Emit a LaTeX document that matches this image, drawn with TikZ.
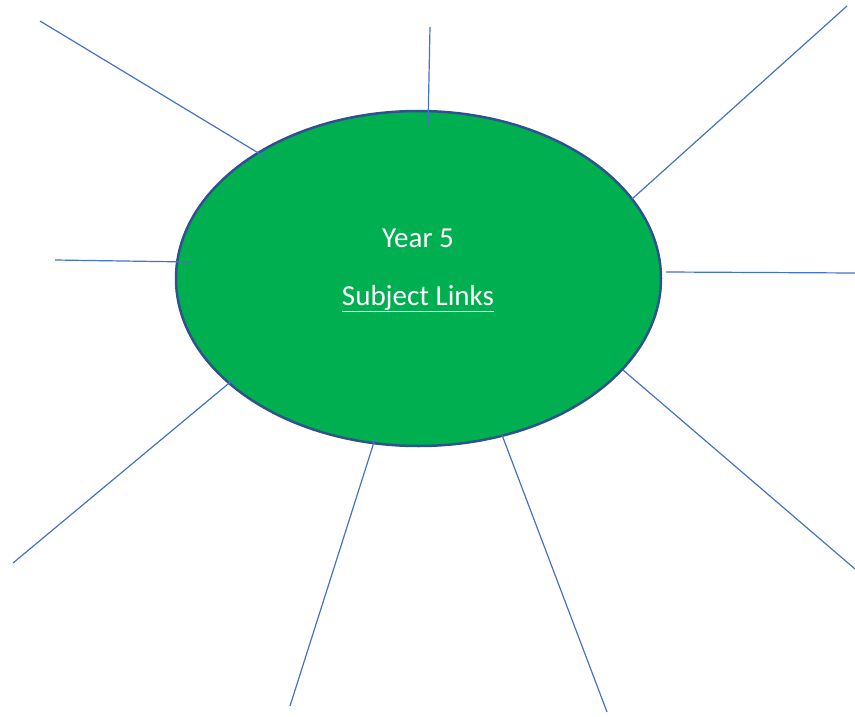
\documentclass[tikz,border=0pt]{standalone}
\usepackage{fontspec}
\setmainfont{Carlito}
\usepackage{xcolor}
\usepackage{tikz}
\usetikzlibrary{shapes.geometric,positioning}
\definecolor{hubgreen}{HTML}{00B050}
\definecolor{hubblue}{HTML}{2F528F}
\definecolor{spokeblue}{HTML}{4472C4}

\begin{document}
\begin{tikzpicture}[x=1pt, y=-1pt,
    spoke/.style={draw=spokeblue, line width=1.2pt},
    hubtext/.style={text=white, anchor=base, inner sep=0pt, font=\fontsize{29}{35}\selectfont}]
    \useasboundingbox (0,0) rectangle (855,717);

    \node[draw=hubblue, line width=2.5pt, ellipse, fill=hubgreen, minimum width=485pt, minimum height=335pt, inner sep=0pt] (hub) at (418.5,278.5) {};
    \node[hubtext] (year) at (418,247) {Year 5};
    \node[hubtext] (links) at (418,305) {\underline{Subject Links}};

    % spoke ends
    \coordinate (nw_out) at (40,21);   \coordinate (nw_in) at (265,157);
    \coordinate (n_out) at (430,27);   \coordinate (n_in) at (428,126);
    \coordinate (ne_out) at (847,6);   \coordinate (ne_in) at (632,199);
    \coordinate (w_out) at (55,260);   \coordinate (w_in) at (191,262);
    \coordinate (e_out) at (855,273);  \coordinate (e_in) at (666,272);
    \coordinate (sw_out) at (13,563);  \coordinate (sw_in) at (234,379);
    \coordinate (sl_out) at (290,706); \coordinate (sl_in) at (375,439);
    \coordinate (sr_out) at (607,712); \coordinate (sr_in) at (502,435);
    \coordinate (se_out) at (855,569); \coordinate (se_in) at (623,370);

    \draw[spoke] (nw_out) -- (nw_in);
    \draw[spoke] (n_out) -- (n_in);
    \draw[spoke] (ne_out) -- (ne_in);
    \draw[spoke] (w_out) -- (w_in);
    \draw[spoke] (e_out) -- (e_in);
    \draw[spoke] (sw_out) -- (sw_in);
    \draw[spoke] (sl_out) -- (sl_in);
    \draw[spoke] (sr_out) -- (sr_in);
    \draw[spoke] (se_out) -- (se_in);
\end{tikzpicture}
\end{document}
